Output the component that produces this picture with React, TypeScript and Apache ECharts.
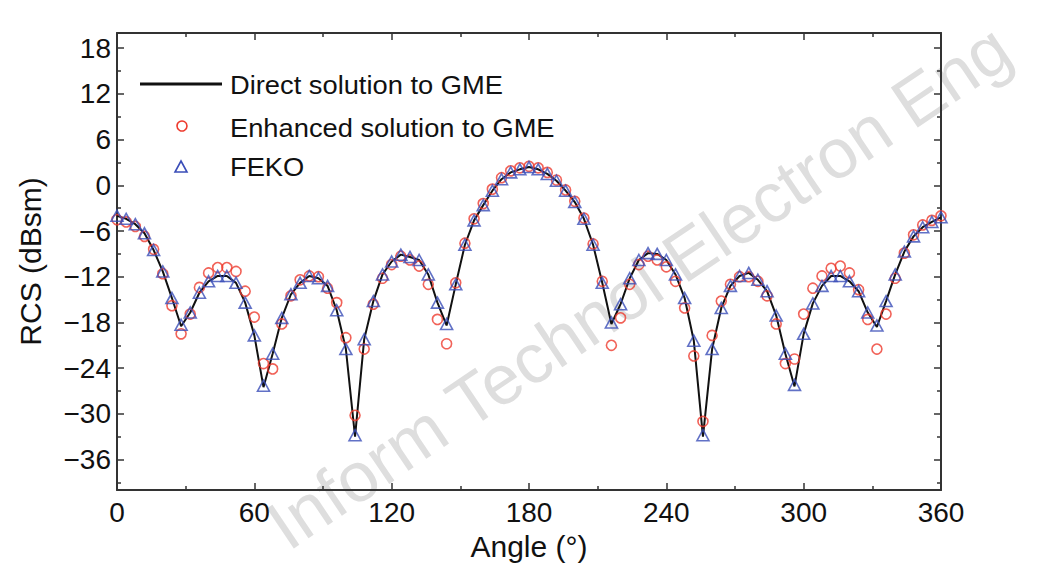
import React, { useEffect, useRef } from "react";
import * as echarts from "echarts";

const angles = [
  0, 4, 8, 12, 16, 20, 24, 28, 32, 36, 40, 44, 48, 52, 56, 60, 64, 68, 72, 76, 80, 84, 88,
  92, 96, 100, 104, 108, 112, 116, 120, 124, 128, 132, 136, 140, 144, 148, 152, 156, 160,
  164, 168, 172, 176, 180, 184, 188, 192, 196, 200, 204, 208, 212, 216, 220, 224, 228, 232,
  236, 240, 244, 248, 252, 256, 260, 264, 268, 272, 276, 280, 284, 288, 292, 296, 300, 304,
  308, 312, 316, 320, 324, 328, 332, 336, 340, 344, 348, 352, 356, 360,
];

const directSolution = [
  -4.0, -4.4, -5.1, -6.3, -8.5, -11.3, -14.8, -18.5, -16.7, -14.1, -12.6, -11.9, -11.9, -12.8,
  -15.4, -19.7, -26.5, -22.1, -17.4, -14.3, -12.8, -11.9, -12.2, -13.2, -16.4, -21.5, -33.0,
  -20.2, -15.2, -11.7, -10.0, -9.1, -9.4, -9.8, -11.7, -15.4, -18.4, -13.0, -7.8, -4.6, -2.6,
  -0.7, 0.8, 1.7, 2.1, 2.4, 2.1, 1.5, 0.6, -0.7, -2.2, -4.4, -7.8, -12.8, -18.2, -15.6, -12.2,
  -9.8, -8.9, -9.0, -9.8, -11.7, -14.8, -20.4, -33.0, -21.5, -16.1, -13.2, -11.9, -11.5,
  -12.4, -13.9, -17.1, -22.1, -26.4, -19.5, -15.5, -13.2, -11.9, -11.9, -12.6, -13.9, -16.7,
  -18.6, -15.2, -11.7, -8.7, -6.7, -5.5, -4.8, -4.2,
];

const enhancedSolution = [
  -4.5, -4.8, -5.4, -6.7, -8.4, -11.6, -15.8, -19.5, -16.9, -13.4, -11.5, -10.8, -10.8, -11.3,
  -13.9, -17.3, -23.4, -24.1, -18.2, -14.5, -12.4, -11.9, -12.0, -13.5, -15.4, -20.0, -30.2,
  -21.5, -15.6, -12.2, -10.4, -9.3, -9.8, -10.6, -13.0, -17.6, -20.8, -12.8, -7.6, -4.4, -2.4,
  -0.5, 1.0, 1.9, 2.3, 2.5, 2.3, 1.7, 0.7, -0.6, -2.1, -4.3, -7.7, -12.6, -21.0, -17.4, -13.0,
  -10.4, -9.3, -9.8, -10.7, -12.6, -16.1, -22.4, -31.0, -19.7, -15.2, -13.0, -12.0, -12.0,
  -12.6, -14.5, -18.2, -23.4, -22.8, -16.9, -13.5, -11.9, -10.9, -10.6, -11.5, -13.7, -17.6,
  -21.5, -16.9, -12.2, -8.9, -6.5, -5.2, -4.6, -4.0,
];

const fekoSolution = [
  -4.0, -4.4, -5.1, -6.3, -8.5, -11.3, -14.8, -18.3, -16.7, -14.1, -12.6, -11.9, -11.9, -12.8,
  -15.4, -19.7, -26.3, -22.1, -17.4, -14.3, -12.8, -11.9, -12.2, -13.2, -16.4, -21.5, -32.8,
  -20.2, -15.2, -11.7, -10.0, -9.1, -9.4, -9.8, -11.7, -15.4, -18.2, -13.0, -7.8, -4.6, -2.6,
  -0.7, 0.8, 1.7, 2.1, 2.4, 2.1, 1.5, 0.6, -0.7, -2.2, -4.4, -7.8, -12.8, -18.0, -15.6, -12.2,
  -9.8, -8.9, -9.0, -9.8, -11.7, -14.8, -20.4, -32.8, -21.5, -16.1, -13.2, -11.9, -11.5,
  -12.4, -13.9, -17.1, -22.1, -26.2, -19.5, -15.5, -13.2, -11.9, -11.9, -12.6, -13.9, -16.7,
  -18.4, -15.2, -11.7, -8.7, -6.7, -5.5, -4.8, -4.2,
];

const yMajorTicks = [-36, -30, -24, -18, -12, -6, 0, 6, 12, 18];
const yMinorTicks = [-39, -33, -27, -21, -15, -9, -3, 3, 9, 15];

const seriesNames = ["Direct solution to GME", "Enhanced solution to GME", "FEKO"];
const watermarkText = "Inform Technol Electron Eng";

const FONT = "'Liberation Sans', Arial, Helvetica, sans-serif";
const AXIS_COLOR = "#333333";
const RED = "#ee3b2e";
const BLUE = "#3a4db8";

export default function App() {
  const ref = useRef<HTMLDivElement>(null);

  useEffect(() => {
    if (!ref.current) return;
    const chart = echarts.init(ref.current, null, { renderer: "svg" });

    const pair = (ys: number[]) => angles.map((a, i) => [a, ys[i]]);
    const minus = (v: number) => (v < 0 ? "\u2212" + Math.abs(v) : String(v));

    const baseY = {
      type: "value",
      min: -40,
      max: 20,
      splitLine: { show: false },
    };

    const tickLine = { color: AXIS_COLOR, width: 1.5 };
    const axisLineStyle = { show: true, onZero: false, lineStyle: { color: AXIS_COLOR, width: 2 } };

    const legendText = (text: string, y: number) => ({
      type: "text",
      x: 230,
      y,
      z: 100,
      scaleX: 1.05,
      style: { text, fontSize: 26, fontFamily: FONT, fill: "#111", verticalAlign: "middle" },
    });

    const option: any = {
      animation: false,
      backgroundColor: "#ffffff",
      textStyle: { fontFamily: FONT },
      grid: { left: 117, right: 99, top: 33, bottom: 74, containLabel: false },
      xAxis: [
        {
          type: "value",
          position: "bottom",
          min: 0,
          max: 360,
          interval: 60,
          name: "Angle (\u00b0)",
          nameLocation: "middle",
          nameGap: 41,
          nameTextStyle: { fontSize: 30, color: "#111", fontFamily: FONT },
          axisLine: axisLineStyle,
          axisTick: { show: true, inside: true, length: 7, lineStyle: tickLine },
          minorTick: { show: true, splitNumber: 2, length: 4, lineStyle: tickLine },
          axisLabel: { fontSize: 28, color: "#111", margin: 8, fontFamily: FONT },
          splitLine: { show: false },
          minorSplitLine: { show: false },
        },
        {
          type: "value",
          position: "top",
          min: 0,
          max: 360,
          interval: 60,
          axisLine: axisLineStyle,
          axisTick: { show: true, inside: true, length: 7, lineStyle: tickLine },
          minorTick: { show: true, splitNumber: 2, length: 4, lineStyle: tickLine },
          axisLabel: { show: false },
          splitLine: { show: false },
        },
      ],
      yAxis: [
        {
          ...baseY,
          position: "left",
          name: "RCS (dBsm)",
          nameLocation: "middle",
          nameGap: 72,
          nameRotate: 90,
          nameTextStyle: { fontSize: 30, color: "#111", fontFamily: FONT },
          axisLine: axisLineStyle,
          axisTick: { show: true, inside: true, length: 7, customValues: yMajorTicks, lineStyle: tickLine },
          axisLabel: {
            show: true,
            customValues: yMajorTicks,
            fontSize: 28,
            color: "#111",
            margin: 6,
            fontFamily: FONT,
            formatter: (v: number) => minus(v),
          },
        },
        {
          ...baseY,
          position: "left",
          axisLine: { show: false, onZero: false },
          axisTick: { show: true, inside: true, length: 4, customValues: yMinorTicks, lineStyle: tickLine },
          axisLabel: { show: false },
        },
        {
          ...baseY,
          position: "right",
          axisLine: axisLineStyle,
          axisTick: { show: true, inside: true, length: 7, customValues: yMajorTicks, lineStyle: tickLine },
          axisLabel: { show: false },
        },
        {
          ...baseY,
          position: "right",
          axisLine: { show: false, onZero: false },
          axisTick: { show: true, inside: true, length: 4, customValues: yMinorTicks, lineStyle: tickLine },
          axisLabel: { show: false },
        },
      ],
      graphic: [
        {
          type: "text",
          x: 275,
          y: 532,
          rotation: (34 * Math.PI) / 180,
          z: -10,
          silent: true,
          style: {
            text: watermarkText,
            fontSize: 70,
            lineHeight: 70,
            fontFamily: FONT,
            fill: "#dedede",
            align: "left",
            verticalAlign: "middle",
          },
        },
        {
          type: "line",
          shape: { x1: 140, y1: 84, x2: 222, y2: 84 },
          style: { stroke: "#111", lineWidth: 3 },
          z: 100,
        },
        legendText(seriesNames[0], 85),
        {
          type: "circle",
          shape: { cx: 182, cy: 126, r: 5 },
          style: { fill: "none", stroke: RED, lineWidth: 1.6 },
          z: 100,
        },
        legendText(seriesNames[1], 128),
        {
          type: "polygon",
          shape: { points: [[181, 161], [187, 172], [175, 172]] },
          style: { fill: "none", stroke: BLUE, lineWidth: 1.6 },
          z: 100,
        },
        legendText(seriesNames[2], 167),
      ],
      series: [
        {
          name: seriesNames[0],
          type: "line",
          data: pair(directSolution),
          symbol: "none",
          smooth: false,
          lineStyle: { color: "#111", width: 2 },
          z: 2,
        },
        {
          name: seriesNames[1],
          type: "scatter",
          data: pair(enhancedSolution),
          symbol: "circle",
          symbolSize: 10,
          itemStyle: { color: "rgba(0,0,0,0)", borderColor: RED, borderWidth: 1.6 },
          z: 3,
        },
        {
          name: seriesNames[2],
          type: "scatter",
          data: pair(fekoSolution),
          symbol: "triangle",
          symbolSize: [12, 11],
          itemStyle: { color: "rgba(0,0,0,0)", borderColor: BLUE, borderWidth: 1.6 },
          z: 4,
        },
      ],
    };

    chart.setOption(option);
    return () => chart.dispose();
  }, []);

  return (
    <div
      ref={ref}
      style={{ position: "absolute", left: 0, top: 0, width: 1040, height: 566, background: "#fff" }}
    />
  );
}
